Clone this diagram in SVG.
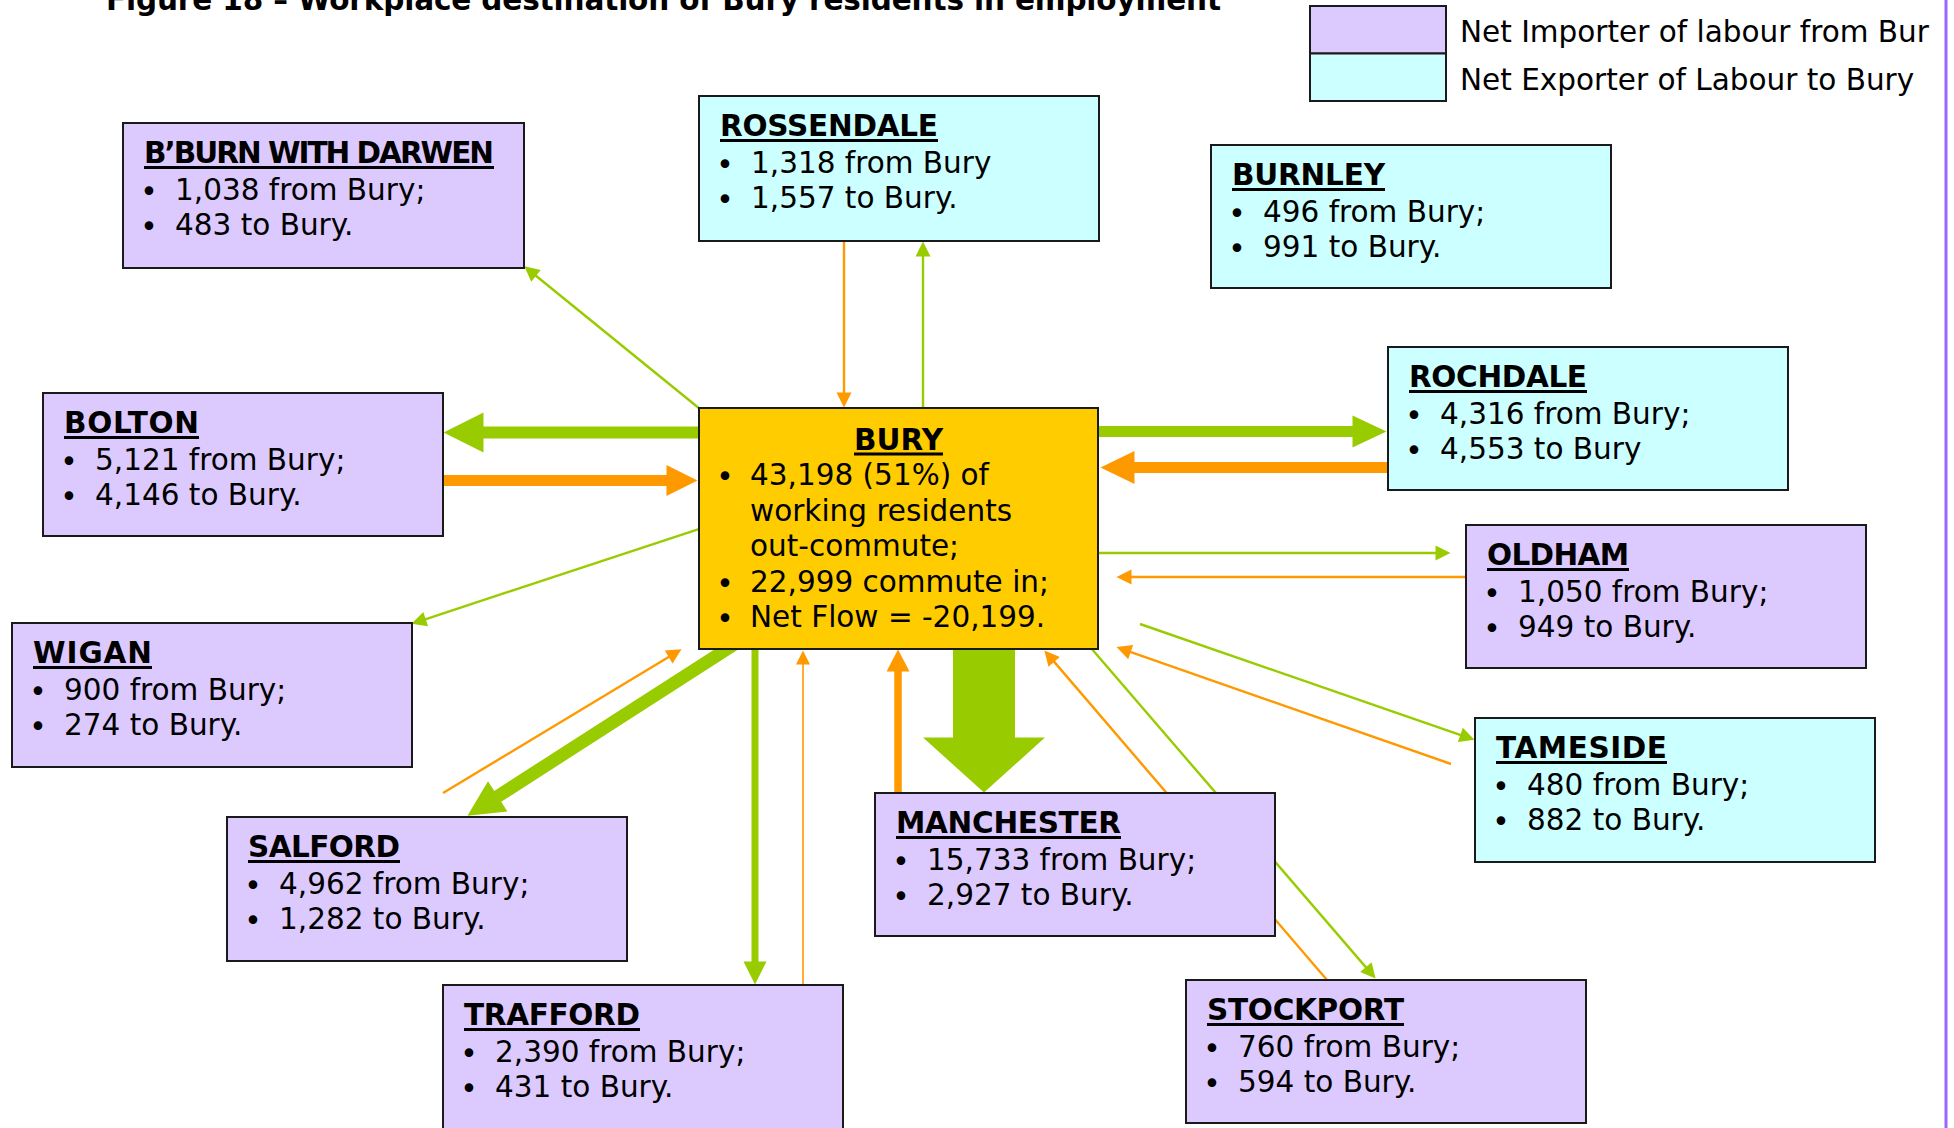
<svg xmlns="http://www.w3.org/2000/svg" width="1954" height="1128" viewBox="0 0 1954 1128">
<style>
text{font-family:"DejaVu Sans",Verdana,sans-serif;font-size:29.5px;fill:#000}
.t{font-weight:bold}
.m{text-anchor:middle}
.box{stroke:#1a1a1a;stroke-width:2}
.p{fill:#DCCAFF}.c{fill:#CCFFFF}.y{fill:#FFCC00}
.g{stroke:#99CC00;fill:none}.o{stroke:#FF9900;fill:none}
.ul{fill:#000}
</style>
<defs>
<marker id="gS" markerUnits="userSpaceOnUse" markerWidth="15" markerHeight="15" refX="0.5" refY="7.5" orient="auto" overflow="visible"><path d="M0,0L15,7.5L0,15z" fill="#99CC00"/></marker>
<marker id="oS" markerUnits="userSpaceOnUse" markerWidth="15" markerHeight="15" refX="0.5" refY="7.5" orient="auto" overflow="visible"><path d="M0,0L15,7.5L0,15z" fill="#FF9900"/></marker>
<marker id="oXS" markerUnits="userSpaceOnUse" markerWidth="14" markerHeight="14" refX="0.5" refY="7" orient="auto" overflow="visible"><path d="M0,0L14,7L0,14z" fill="#FF9900"/></marker>
<marker id="gBolton" markerUnits="userSpaceOnUse" markerWidth="40" markerHeight="40" refX="0.5" refY="20" orient="auto" overflow="visible"><path d="M0,0L40,20L0,40z" fill="#99CC00"/></marker>
<marker id="oBolton" markerUnits="userSpaceOnUse" markerWidth="31" markerHeight="31" refX="0.5" refY="15.5" orient="auto" overflow="visible"><path d="M0,0L31,15.5L0,31z" fill="#FF9900"/></marker>
<marker id="gRoch" markerUnits="userSpaceOnUse" markerWidth="34" markerHeight="32" refX="0.5" refY="16" orient="auto" overflow="visible"><path d="M0,0L34,16L0,32z" fill="#99CC00"/></marker>
<marker id="oRoch" markerUnits="userSpaceOnUse" markerWidth="34" markerHeight="33" refX="0.5" refY="16.5" orient="auto" overflow="visible"><path d="M0,0L34,16.5L0,33z" fill="#FF9900"/></marker>
<marker id="gSal" markerUnits="userSpaceOnUse" markerWidth="36" markerHeight="36" refX="0.5" refY="18" orient="auto" overflow="visible"><path d="M0,0L36,18L0,36z" fill="#99CC00"/></marker>
<marker id="gTraf" markerUnits="userSpaceOnUse" markerWidth="23" markerHeight="23" refX="0.5" refY="11.5" orient="auto" overflow="visible"><path d="M0,0L23,11.5L0,23z" fill="#99CC00"/></marker>
<marker id="oMan" markerUnits="userSpaceOnUse" markerWidth="22" markerHeight="23" refX="0.5" refY="11.5" orient="auto" overflow="visible"><path d="M0,0L22,11.5L0,23z" fill="#FF9900"/></marker>
<marker id="gMan" markerUnits="userSpaceOnUse" markerWidth="55" markerHeight="122" refX="0.5" refY="61" orient="auto" overflow="visible"><path d="M0,0L55,61L0,122z" fill="#99CC00"/></marker>
</defs>
<rect x="0" y="0" width="1954" height="1128" fill="#fff"/>
<line x1="1946" y1="0" x2="1946" y2="1128" stroke="#9966FF" stroke-width="3"/>
<text class="t" x="106" y="10" textLength="1115">Figure 18 – Workplace destination of Bury residents in employment</text>
<g id="legend">
<rect class="box p" x="1310" y="6" width="136" height="47.5" stroke-width="2.5"/>
<rect class="box c" x="1310" y="53.5" width="136" height="47.5" stroke-width="2.5"/>
<text x="1460" y="41.5">Net Importer of labour from Bur</text>
<text x="1460" y="89.5">Net Exporter of Labour to Bury</text>
</g>
<g id="connectors">
<line class="g" stroke-width="2.4" x1="700" y1="409" x2="535.6" y2="275.5" marker-end="url(#gS)"/>
<line class="o" stroke-width="2.4" x1="844" y1="241" x2="844" y2="393" marker-end="url(#oS)"/>
<line class="g" stroke-width="2.4" x1="923" y1="409" x2="923" y2="256" marker-end="url(#gS)"/>
<line class="g" stroke-width="2.4" x1="1097" y1="553" x2="1436" y2="553" marker-end="url(#gS)"/>
<line class="o" stroke-width="2.4" x1="1467" y1="577" x2="1131" y2="577" marker-end="url(#oS)"/>
<line class="g" stroke-width="2.4" x1="1140" y1="624" x2="1460.8" y2="735.1" marker-end="url(#gS)"/>
<line class="o" stroke-width="2.4" x1="1451" y1="764" x2="1130.2" y2="651.9" marker-end="url(#oS)"/>
<line class="g" stroke-width="2.4" x1="701" y1="528.3" x2="425.2" y2="619.3" marker-end="url(#gS)"/>
<line class="o" stroke-width="2.4" x1="443" y1="793" x2="669.1" y2="656.7" marker-end="url(#oS)"/>
<line class="o" stroke-width="1.6" x1="803" y1="985" x2="803" y2="664" marker-end="url(#oXS)"/>
<line class="o" stroke-width="2.4" x1="1327" y1="980" x2="1053.8" y2="661.4" marker-end="url(#oS)"/>
<line class="g" stroke-width="2.4" x1="1088" y1="644.5" x2="1366.2" y2="967.6" marker-end="url(#gS)"/>
<line class="g" stroke-width="12" x1="700" y1="432.5" x2="483" y2="432.5" marker-end="url(#gBolton)"/>
<line class="o" stroke-width="11" x1="443" y1="480.5" x2="667" y2="480.5" marker-end="url(#oBolton)"/>
<line class="g" stroke-width="11" x1="1097" y1="431.5" x2="1353" y2="431.5" marker-end="url(#gRoch)"/>
<line class="o" stroke-width="11" x1="1389" y1="467.5" x2="1134" y2="467.5" marker-end="url(#oRoch)"/>
<line class="g" stroke-width="13" x1="735.4" y1="643.6" x2="497.3" y2="796.6" marker-end="url(#gSal)"/>
<line class="g" stroke-width="7" x1="755" y1="648" x2="755" y2="962" marker-end="url(#gTraf)"/>
<line class="o" stroke-width="7.5" x1="898" y1="794" x2="898" y2="671" marker-end="url(#oMan)"/>
<line class="g" stroke-width="62" x1="984" y1="648" x2="984" y2="738" marker-end="url(#gMan)"/>
</g>
<g id="rossendale">
<rect class="box c" x="699" y="96" width="400" height="145"/>
<text class="t" x="720" y="136" textLength="218">ROSSENDALE</text><rect class="ul" x="720" y="139" width="218" height="3"/>
<text class="m" x="725" y="175">•</text><text x="751" y="173">1,318 from Bury</text>
<text class="m" x="725" y="210">•</text><text x="751" y="208">1,557 to Bury.</text>
</g>
<g id="bburn">
<rect class="box p" x="123" y="123" width="401" height="145"/>
<text class="t" x="144" y="163" textLength="350">B’BURN WITH DARWEN</text><rect class="ul" x="144" y="166" width="350" height="3"/>
<text class="m" x="149" y="202">•</text><text x="175" y="200">1,038 from Bury;</text>
<text class="m" x="149" y="237">•</text><text x="175" y="235">483 to Bury.</text>
</g>
<g id="burnley">
<rect class="box c" x="1211" y="145" width="400" height="143"/>
<text class="t" x="1232" y="185" textLength="153">BURNLEY</text><rect class="ul" x="1232" y="188" width="153" height="3"/>
<text class="m" x="1237" y="224">•</text><text x="1263" y="222">496 from Bury;</text>
<text class="m" x="1237" y="259">•</text><text x="1263" y="257">991 to Bury.</text>
</g>
<g id="bolton">
<rect class="box p" x="43" y="393" width="400" height="143"/>
<text class="t" x="64" y="433" textLength="135">BOLTON</text><rect class="ul" x="64" y="436" width="135" height="3"/>
<text class="m" x="69" y="472">•</text><text x="95" y="470">5,121 from Bury;</text>
<text class="m" x="69" y="507">•</text><text x="95" y="505">4,146 to Bury.</text>
</g>
<g id="bury">
<rect class="box y" x="699" y="408" width="399" height="241"/>
<text class="t m" x="898.5" y="449.5" textLength="89">BURY</text><rect class="ul" x="854" y="452.5" width="89" height="3"/>
<text class="m" x="725" y="487">•</text><text x="750" y="485">43,198 (51%) of</text>
<text x="750" y="520.5">working residents</text>
<text x="750" y="556">out-commute;</text>
<text class="m" x="725" y="593.5">•</text><text x="750" y="591.5">22,999 commute in;</text>
<text class="m" x="725" y="629">•</text><text x="750" y="627">Net Flow = -20,199.</text>
</g>
<g id="rochdale">
<rect class="box c" x="1388" y="347" width="400" height="143"/>
<text class="t" x="1409" y="387" textLength="178">ROCHDALE</text><rect class="ul" x="1409" y="390" width="178" height="3"/>
<text class="m" x="1414" y="426">•</text><text x="1440" y="424">4,316 from Bury;</text>
<text class="m" x="1414" y="461">•</text><text x="1440" y="459">4,553 to Bury</text>
</g>
<g id="oldham">
<rect class="box p" x="1466" y="525" width="400" height="143"/>
<text class="t" x="1487" y="565" textLength="142">OLDHAM</text><rect class="ul" x="1487" y="568" width="142" height="3"/>
<text class="m" x="1492" y="604">•</text><text x="1518" y="602">1,050 from Bury;</text>
<text class="m" x="1492" y="639">•</text><text x="1518" y="637">949 to Bury.</text>
</g>
<g id="wigan">
<rect class="box p" x="12" y="623" width="400" height="144"/>
<text class="t" x="33" y="663" textLength="119">WIGAN</text><rect class="ul" x="33" y="666" width="119" height="3"/>
<text class="m" x="38" y="702">•</text><text x="64" y="700">900 from Bury;</text>
<text class="m" x="38" y="737">•</text><text x="64" y="735">274 to Bury.</text>
</g>
<g id="tameside">
<rect class="box c" x="1475" y="718" width="400" height="144"/>
<text class="t" x="1496" y="758" textLength="171">TAMESIDE</text><rect class="ul" x="1496" y="761" width="171" height="3"/>
<text class="m" x="1501" y="797">•</text><text x="1527" y="795">480 from Bury;</text>
<text class="m" x="1501" y="832">•</text><text x="1527" y="830">882 to Bury.</text>
</g>
<g id="salford">
<rect class="box p" x="227" y="817" width="400" height="144"/>
<text class="t" x="248" y="857" textLength="152">SALFORD</text><rect class="ul" x="248" y="860" width="152" height="3"/>
<text class="m" x="253" y="896">•</text><text x="279" y="894">4,962 from Bury;</text>
<text class="m" x="253" y="931">•</text><text x="279" y="929">1,282 to Bury.</text>
</g>
<g id="manchester">
<rect class="box p" x="875" y="793" width="400" height="143"/>
<text class="t" x="896" y="833" textLength="225">MANCHESTER</text><rect class="ul" x="896" y="836" width="225" height="3"/>
<text class="m" x="901" y="872">•</text><text x="927" y="870">15,733 from Bury;</text>
<text class="m" x="901" y="907">•</text><text x="927" y="905">2,927 to Bury.</text>
</g>
<g id="stockport">
<rect class="box p" x="1186" y="980" width="400" height="143"/>
<text class="t" x="1207" y="1020" textLength="197">STOCKPORT</text><rect class="ul" x="1207" y="1023" width="197" height="3"/>
<text class="m" x="1212" y="1059">•</text><text x="1238" y="1057">760 from Bury;</text>
<text class="m" x="1212" y="1094">•</text><text x="1238" y="1092">594 to Bury.</text>
</g>
<g id="trafford">
<rect class="box p" x="443" y="985" width="400" height="150"/>
<text class="t" x="464" y="1025" textLength="176">TRAFFORD</text><rect class="ul" x="464" y="1028" width="176" height="3"/>
<text class="m" x="469" y="1064">•</text><text x="495" y="1062">2,390 from Bury;</text>
<text class="m" x="469" y="1099">•</text><text x="495" y="1097">431 to Bury.</text>
</g>
</svg>
